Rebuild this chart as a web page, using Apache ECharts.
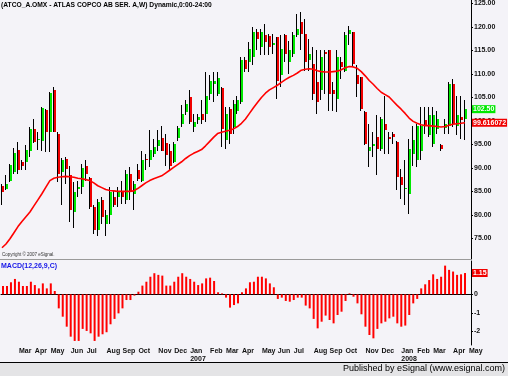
<!DOCTYPE html>
<html>
<head>
<meta charset="utf-8">
<script src="https://cdn.jsdelivr.net/npm/echarts@6/dist/echarts.min.js"></script>
<style>
html,body{margin:0;padding:0;background:#F4F3F8;}
#chart{width:508px;height:376px;}
</style>
</head>
<body>
<div id="chart"></div>
<script>
// weekly bars, first week starts Mon 6 Feb 2006
var startDate = new Date(2006, 1, 6);
var barCount = 118;  // last slot is the empty May 2008 week

var opens  = [86.1,85.4,87.2,89.1,93.9,91.2,91.2,93.6,98.3,95.9,95.8,102.4,97.6,106.6,97.3,89.1,91.8,88.4,80.6,85.6,85.9,90.5,87.9,81.7,76.7,83.1,78.0,79.9,83.8,83.8,85.0,83.1,88.8,84.5,89.5,87.3,91.9,91.7,93.0,94.6,
              96.3,95.3,93.7,91.2,96.3,99.4,101.9,105.1,98.7,100.3,101.5,101.5,105.8,107.9,105.8,107.1,95.9,102.6,98.7,102.2,104.0,112.9,112.5,113.6,118.9,115.7,118.2,118.0,116.1,117.8,109.7,118.2,112.5,114.3,118.2,121.0,118.5,112.9,
              112.2,108.3,106.5,114.6,115.0,106.5,104.7,112.5,110.7,118.5,118.9,109.7,109.3,101.9,93.7,94.6,96.6,94.1,99.4,96.6,97.3,95.5,88.0,85.5,84.5,93.0,91.6,93.7,100.1,96.9,95.1,98.3,94.8,98.4,99.0,107.9,99.0,100.8,100.5];
var closes = [84.9,86.6,90.7,93.2,89.5,90.3,93.9,98.3,95.5,96.1,102.8,97.6,106.0,97.6,88.8,91.6,89.8,81.0,84.8,85.9,90.0,88.8,81.7,76.7,82.7,79.5,80.0,84.9,82.2,84.9,83.8,88.8,84.9,86.6,87.7,91.7,91.6,93.9,94.4,96.0,
              93.7,92.8,90.5,95.0,98.4,101.5,103.5,99.8,99.7,100.8,100.1,105.4,108.6,108.6,109.2,98.3,101.5,97.3,103.6,104.4,112.9,111.1,115.4,118.9,117.5,118.9,116.8,115.7,116.6,108.6,115.4,114.3,115.0,118.2,119.6,118.5,112.5,114.3,
              105.8,104.0,113.6,114.3,105.8,105.8,113.6,111.5,118.2,119.3,112.2,107.9,102.6,95.1,94.4,95.1,94.1,100.5,98.0,96.2,96.6,88.0,86.3,85.8,94.1,95.9,99.0,99.0,99.0,101.2,101.2,100.5,94.1,99.4,107.9,99.4,101.2,100.1,102.5];
var lows   = [82.0,85.2,87.0,88.8,88.8,89.5,89.5,92.3,95.3,93.9,93.6,93.4,93.4,97.6,87.0,82.0,86.6,78.5,77.1,83.8,84.5,87.3,81.3,76.0,75.6,78.0,75.6,78.1,81.7,81.7,82.4,82.4,83.1,81.0,87.3,87.0,89.5,90.2,92.3,93.7,
              93.5,90.5,89.5,91.0,95.8,98.7,101.2,99.4,97.6,99.4,99.4,99.7,104.4,104.0,105.4,94.5,94.1,95.0,97.3,101.5,103.6,110.4,110.4,111.8,115.0,114.0,114.0,114.0,114.3,104.7,107.2,112.5,110.0,113.6,117.8,115.0,110.7,110.7,
              104.4,101.5,104.4,105.8,102.2,102.2,101.9,109.0,110.4,116.1,111.5,105.1,102.2,94.8,90.2,92.3,88.4,93.7,93.0,93.0,95.1,85.2,83.4,82.0,80.2,90.5,90.2,91.6,97.3,96.6,94.4,97.3,93.7,97.3,97.3,98.7,96.9,96.2,95.9];
var highs  = [86.6,88.4,90.9,94.3,95.5,91.7,94.8,98.7,100.5,97.6,102.9,102.6,106.1,107.2,97.6,92.0,92.3,90.5,87.0,87.3,90.9,91.6,88.0,82.0,83.4,83.8,81.0,85.9,85.2,85.9,87.3,89.5,90.2,87.3,90.9,93.7,93.0,98.0,96.2,98.0,
              98.9,97.3,95.0,95.5,99.0,103.3,104.4,106.5,101.5,101.5,104.4,110.4,109.7,110.4,110.4,107.2,102.9,102.9,104.4,105.4,113.6,113.6,116.8,120.0,119.6,119.6,120.7,118.5,118.5,117.8,118.2,118.5,117.1,118.9,122.8,123.2,121.7,117.5,
              115.7,115.0,115.0,115.0,115.0,108.3,115.0,113.6,118.9,120.3,118.9,111.8,109.3,102.2,99.4,97.6,101.2,100.8,105.4,97.6,97.6,95.8,89.8,91.6,96.2,99.0,99.4,102.9,102.9,102.9,102.9,102.2,95.1,100.5,108.3,109.0,105.4,105.4,104.4];
var ma = [73.0,73.8,74.9,76.2,77.5,78.6,79.6,80.6,81.9,83.2,84.5,85.9,87.3,87.8,88.0,88.1,88.2,88.1,88.0,87.8,87.7,87.5,87.3,86.8,86.2,85.8,85.4,85.2,85.1,85.0,85.0,85.0,85.0,85.1,85.6,86.2,86.8,87.3,87.7,88.0,
          88.3,88.9,89.5,90.1,90.7,91.3,92.0,92.6,93.1,93.5,93.9,94.7,95.6,96.5,97.3,97.6,97.8,98.0,98.3,98.8,99.5,100.4,101.6,102.8,103.9,105.0,105.9,106.6,107.1,107.6,108.2,108.8,109.3,109.7,110.2,110.8,111.0,111.1,
          111.0,110.7,110.5,110.4,110.4,110.5,110.6,110.9,111.3,111.6,111.5,111.2,110.5,109.6,108.6,107.8,106.9,106.1,105.6,105.1,104.2,103.3,102.5,101.6,100.6,99.9,99.5,99.2,99.0,99.0,98.9,98.8,98.7,98.8,99.1,99.3,99.4,99.5,99.616072];
var macdHist = [0.45,0.45,0.65,0.83,0.68,0.45,0.45,0.68,0.50,0.32,0.59,0.32,0.59,0.18,-0.76,-1.21,-1.75,-2.29,-2.52,-2.52,-1.87,-1.98,-2.11,-2.52,-2.29,-2.16,-2.05,-1.62,-1.33,-1.03,-0.76,-0.31,-0.31,-0.07,0.14,0.47,0.68,0.95,1.14,1.05,
                1.01,0.47,0.47,0.68,0.95,1.14,0.95,0.83,0.68,0.50,0.59,0.86,0.90,0.72,0.11,0.05,-0.18,-0.72,-0.58,-0.49,0.11,0.32,0.65,0.68,0.95,0.95,0.86,0.59,0.38,-0.25,-0.18,-0.36,-0.40,-0.31,-0.18,-0.18,-0.61,-0.76,
                -1.33,-1.84,-1.48,-1.15,-1.39,-1.57,-1.12,-0.94,-0.36,0.05,-0.13,-0.49,-1.08,-1.75,-2.20,-2.38,-1.87,-1.57,-1.48,-1.30,-1.21,-1.57,-1.75,-1.69,-1.12,-0.49,-0.25,0.32,0.54,0.77,1.08,0.83,0.95,1.55,1.32,1.23,1.05,1.08,1.15];
var priceTicks = [75,80,85,90,95,100,105,110,115,120,125];
var macdTicks = [-2,-1,0];
var monthNames = ['Jan','Feb','Mar','Apr','May','Jun','Jul','Aug','Sep','Oct','Nov','Dec'];

var cats = [], labels = [];
for (var i = 0; i < barCount; i++) {
    var d = new Date(startDate.getTime() + i * 7 * 86400000);
    cats.push(d.getFullYear() + '-' + (d.getMonth() + 1) + '-' + d.getDate());
    var prev = new Date(d.getTime() - 7 * 86400000);
    if (i > 0 && prev.getMonth() != d.getMonth()) {
        var m = monthNames[d.getMonth()];
        labels.push(d.getMonth() == 0 ? m + '\n' + d.getFullYear() : m);
    } else {
        labels.push('');
    }
}

var candles = [];
for (var i = 0; i < opens.length; i++) {
    candles.push([i, opens[i], closes[i], lows[i], highs[i]]);
}

function renderCandle(params, api) {
    var i = api.value(0);
    var pO = api.coord([i, api.value(1)]);
    var pC = api.coord([i, api.value(2)]);
    var pL = api.coord([i, api.value(3)]);
    var pH = api.coord([i, api.value(4)]);
    var x = Math.round(pO[0]);
    var up = api.value(2) >= api.value(1);
    var top = Math.round(Math.min(pO[1], pC[1]));
    var bot = Math.round(Math.max(pO[1], pC[1]));
    if (bot - top < 1) bot = top + 1;
    return {
        type: 'group',
        children: [
            {type: 'rect', shape: {x: x - 1, y: top, width: 3, height: bot - top}, style: {fill: up ? '#00E800' : '#F00000'}},
            {type: 'rect', shape: {x: x - 1, y: Math.round(pH[1]), width: 1, height: Math.max(1, Math.round(pL[1]) - Math.round(pH[1]))}, style: {fill: '#000'}}
        ]
    };
}

var chart = echarts.init(document.getElementById('chart'));
var lastClose = closes[closes.length - 1];
var lastMa = ma[ma.length - 1];
var lastMacd = macdHist[macdHist.length - 1];
var tagFont = 'Liberation Sans, Arial, sans-serif';
var noLine = {color: 'rgba(0,0,0,0)', width: 0, type: 'solid'};

var option = {
    backgroundColor: '#F4F3F8',
    animation: false,
    grid: [
        {left: 0, top: 0, width: 471, height: 259},
        {left: 0, top: 261, width: 471, height: 84}
    ],
    xAxis: [
        {type: 'category', gridIndex: 0, data: cats, boundaryGap: true,
         axisLine: {lineStyle: {color: '#9a9a9a', width: 1}}, axisTick: {show: false}, axisLabel: {show: false}, splitLine: {show: false}},
        {type: 'category', gridIndex: 1, data: cats, boundaryGap: true,
         axisLine: {lineStyle: {color: '#000', width: 1}}, axisTick: {show: false}, splitLine: {show: false},
         axisLabel: {interval: 0, margin: 2, align: 'left', fontSize: 7, fontWeight: 'bold', color: '#111', lineHeight: 8,
                     fontFamily: tagFont,
                     formatter: function (v, idx) { return labels[idx]; }}}
    ],
    yAxis: [
        {type: 'value', gridIndex: 0, position: 'right', min: 70.6, max: 125.7, splitLine: {show: false},
         axisLine: {show: true, lineStyle: {color: '#000'}},
         axisTick: {show: true, length: 2, customValues: priceTicks, lineStyle: {color: '#000'}},
         axisLabel: {customValues: priceTicks, margin: 3, fontSize: 7, fontWeight: 'bold', color: '#111',
                     fontFamily: tagFont,
                     formatter: function (v) { return v.toFixed(2); }}},
        {type: 'value', gridIndex: 1, position: 'right', min: -2.74, max: 1.8, splitLine: {show: false},
         axisLine: {show: true, lineStyle: {color: '#000'}},
         axisTick: {show: true, length: 2, customValues: macdTicks, lineStyle: {color: '#000'}},
         axisLabel: {customValues: macdTicks, margin: 3, fontSize: 7, fontWeight: 'bold', color: '#111',
                     fontFamily: tagFont,
                     formatter: function (v) { return String(v); }}}
    ],
    series: [
        {type: 'custom', xAxisIndex: 0, yAxisIndex: 0, data: candles, renderItem: renderCandle,
         encode: {x: 0, y: [1, 2, 3, 4]}, clip: true, silent: true},
        {type: 'line', xAxisIndex: 0, yAxisIndex: 0, data: ma, showSymbol: false, smooth: false, clip: false,
         lineStyle: {color: '#FF0000', width: 1.6}, silent: true,
         markLine: {symbol: 'none', silent: true, animation: false, lineStyle: noLine, z: 10,
                    label: {show: true, position: 'end', distance: 1, fontSize: 7, fontWeight: 'bold', fontFamily: tagFont, padding: [1, 1, 0, 1]},
                    data: [
                        {yAxis: lastClose, lineStyle: noLine, label: {show: true, formatter: lastClose.toFixed(2), backgroundColor: '#00E800', color: '#fff'}},
                        {yAxis: lastMa, lineStyle: noLine, label: {show: true, formatter: String(lastMa), backgroundColor: '#F00000', color: '#fff'}}
                    ]}},
        {type: 'bar', xAxisIndex: 1, yAxisIndex: 1, data: macdHist, barWidth: 2, itemStyle: {color: '#FF0000'}, silent: true, clip: false,
         markLine: {symbol: 'none', silent: true, animation: false, lineStyle: noLine, z: 10,
                    label: {show: true, position: 'end', distance: 1, fontSize: 7, fontWeight: 'bold', fontFamily: tagFont, padding: [1, 1, 0, 1]},
                    data: [{yAxis: lastMacd, lineStyle: noLine, label: {show: true, formatter: lastMacd.toFixed(2), backgroundColor: '#F00000', color: '#fff'}}]}}
    ],
    graphic: [
        {type: 'text', left: 1, top: 2, style: {text: '(ATCO_A.OMX - ATLAS COPCO AB SER. A,W) Dynamic,0:00-24:00', font: 'bold 6.7px Liberation Sans, Arial, sans-serif', fill: '#000'}},
        {type: 'text', left: 2, top: 252, style: {text: 'Copyright \u00a9 2007 eSignal.', font: '4.5px Liberation Sans, Arial, sans-serif', fill: '#333'}},
        {type: 'text', left: 1, top: 263, style: {text: 'MACD(12,26,9,C)', font: 'bold 7px Liberation Sans, Arial, sans-serif', fill: '#1515E8'}},
        {type: 'rect', left: 0, top: 362, shape: {width: 508, height: 14}, style: {fill: '#E4E4E6'}},
        {type: 'rect', left: 0, top: 362, shape: {width: 508, height: 1}, style: {fill: '#000'}},
        {type: 'text', right: 3, top: 364, style: {text: 'Published by eSignal (www.esignal.com)', font: '9px Liberation Sans, Arial, sans-serif', fill: '#000'}}
    ]
};
chart.setOption(option);
</script>
</body>
</html>
